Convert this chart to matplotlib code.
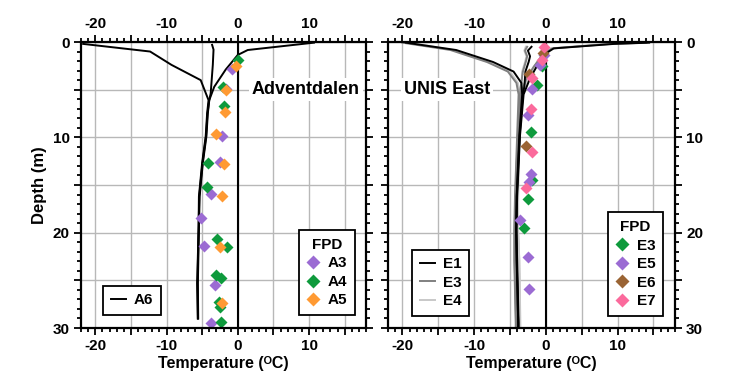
import numpy as np
import matplotlib
matplotlib.use("Agg")
import matplotlib.pyplot as plt
from matplotlib.ticker import MultipleLocator, FuncFormatter

plt.rcParams['font.family'] = ['Liberation Sans', 'DejaVu Sans']
plt.rcParams['font.weight'] = 'bold'
plt.rcParams['axes.unicode_minus'] = False

# ---- Adventdalen: A6 trumpet curve (min / max / mean) ----
a6_min_d = [0.2, 1.0, 2.4, 4.0, 6.1, 7.5, 9.9, 12.7, 16.2, 19.7, 25.3, 29.0]
a6_min_t = [-21.7, -12.3, -9.3, -5.2, -4.1, -4.3, -4.5, -5.0, -5.45, -5.5, -5.7, -5.6]
a6_max_d = [0.07, 0.84, 1.36, 2.9, 4.7, 6.1, 7.5, 9.9, 12.7, 16.2, 19.7, 25.3, 29.0]
a6_max_t = [10.7, 1.4, 0.0, -1.7, -3.3, -4.0, -4.25, -4.45, -4.95, -5.4, -5.5, -5.65, -5.6]
a6_mean_d = [0.3, 0.8, 2.4, 5.4, 6.1, 7.5, 9.9, 12.7, 16.2, 19.7, 25.3, 29.0]
a6_mean_t = [-3.6, -3.4, -3.5, -3.8, -4.0, -4.2, -4.4, -4.9, -5.35, -5.45, -5.6, -5.55]

# FPD points, Adventdalen
a3_d = [2.8, 4.9, 9.9, 12.6, 15.9, 18.5, 21.4, 25.5, 29.45]
a3_t = [-0.75, -1.6, -2.25, -2.5, -3.7, -5.1, -4.8, -3.2, -3.7]
a4_d = [1.9, 4.75, 6.7, 12.7, 15.2, 20.7, 21.5, 24.45, 24.8, 27.3, 27.8, 29.4]
a4_t = [0.0, -2.1, -1.9, -4.2, -4.3, -2.9, -1.55, -3.1, -2.3, -2.6, -2.5, -2.3]
a5_d = [2.5, 5.0, 7.3, 9.7, 12.8, 16.2, 21.5, 27.4]
a5_t = [-0.2, -1.7, -1.8, -3.1, -2.0, -2.15, -2.5, -2.15]

# ---- UNIS East: E1, E3, E4 trumpet curves ----
e1_min_d = [0.07, 0.84, 2.1, 3.1, 4.3, 5.5, 9.8, 16.2, 19.7, 22.9, 29.5, 30.0]
e1_min_t = [-19.5, -12.5, -7.35, -4.5, -3.4, -3.3, -3.7, -4.07, -4.15, -4.07, -3.85, -3.85]
e1_max_d = [0.07, 0.2, 0.67, 1.2, 2.6, 3.8, 5.5, 9.8, 16.2, 19.7, 22.9, 29.5, 30.0]
e1_max_t = [14.4, 9.5, 1.1, 0.0, -1.3, -2.2, -3.1, -3.6, -4.0, -4.1, -4.0, -3.8, -3.8]
e1_mean_d = [0.5, 0.9, 1.5, 2.1, 3.1, 4.7, 5.5, 9.8, 16.2, 19.7, 22.9, 29.5, 30.0]
e1_mean_t = [-2.0, -2.5, -2.2, -2.4, -2.85, -3.0, -3.2, -3.65, -4.05, -4.1, -4.05, -3.85, -3.85]

e3_min_d = [0.07, 0.84, 2.1, 3.1, 4.3, 5.5, 9.8, 16.2, 19.7, 22.9, 29.5, 30.0]
e3_min_t = [-20.0, -13.3, -8.2, -5.3, -4.1, -3.8, -4.0, -4.3, -4.4, -4.4, -4.2, -4.2]
e3_max_d = [0.07, 0.2, 0.67, 1.2, 2.6, 3.8, 5.5, 9.8, 16.2, 19.7, 22.9, 29.5, 30.0]
e3_max_t = [14.0, 9.0, 0.9, -0.3, -1.7, -2.7, -3.5, -3.9, -4.2, -4.3, -4.3, -4.1, -4.1]
e3_mean_d = [0.5, 0.9, 1.5, 2.1, 3.1, 4.7, 5.5, 9.8, 16.2, 19.7, 22.9, 29.5, 30.0]
e3_mean_t = [-2.6, -2.9, -2.6, -2.8, -3.2, -3.5, -3.6, -3.9, -4.25, -4.35, -4.35, -4.15, -4.15]

e4_min_d = [0.07, 0.84, 2.1, 3.1, 4.3, 5.5, 9.8, 16.2, 19.7, 22.9, 29.5, 30.0]
e4_min_t = [-19.0, -13.0, -8.0, -5.0, -3.9, -3.6, -3.8, -3.9, -3.9, -3.7, -3.6, -3.6]
e4_max_d = [0.07, 0.2, 0.67, 1.2, 2.6, 3.8, 5.5, 9.8, 16.2, 19.7, 22.9, 29.5, 30.0]
e4_max_t = [13.5, 8.5, 0.7, -0.4, -1.6, -2.5, -3.3, -3.7, -3.85, -3.85, -3.7, -3.55, -3.55]
e4_mean_d = [0.5, 0.9, 1.5, 2.1, 3.1, 4.7, 5.5, 9.8, 16.2, 19.7, 22.9, 29.5, 30.0]
e4_mean_t = [-2.8, -3.0, -2.7, -2.9, -3.3, -3.4, -3.5, -3.75, -3.9, -3.9, -3.75, -3.6, -3.6]

# FPD points, UNIS East
e3p_d = [2.5, 4.5, 9.4, 14.5, 16.5, 19.5]
e3p_t = [-0.55, -1.25, -2.1, -1.9, -2.45, -3.05]
e5_d = [1.4, 2.4, 4.9, 7.65, 13.85, 14.7, 18.7, 22.6, 25.9]
e5_t = [-0.2, -0.8, -1.9, -2.5, -2.05, -2.3, -3.6, -2.45, -2.35]
e6_d = [1.2, 3.4, 10.9]
e6_t = [-0.35, -2.35, -2.7]
e7_d = [0.5, 1.9, 3.8, 7.0, 11.5, 15.3]
e7_t = [-0.2, -0.55, -2.0, -2.05, -2.0, -2.7]

c_green = '#0e9a3c'
c_purple = '#9b6bd3'
c_orange = '#ff9a33'
c_brown = '#9a6434'
c_pink = '#fb6a9c'

fig = plt.figure(figsize=(7.31, 3.86), dpi=100)
ax1 = fig.add_axes([81 / 731, 58 / 386, 285 / 731, 286 / 386])
ax2 = fig.add_axes([388 / 731, 58 / 386, 287 / 731, 286 / 386])

lab10 = FuncFormatter(lambda v, p: f"{v:.0f}" if abs(v % 10) < 1e-6 else "")


def style(ax, left_labels):
    ax.set_xlim(-22, 18)
    ax.set_ylim(30, 0)
    ax.xaxis.set_major_locator(MultipleLocator(5))
    ax.xaxis.set_minor_locator(MultipleLocator(1))
    ax.yaxis.set_major_locator(MultipleLocator(5))
    ax.yaxis.set_minor_locator(MultipleLocator(1))
    ax.xaxis.set_major_formatter(lab10)
    ax.yaxis.set_major_formatter(lab10)
    ax.grid(True, which='major', color='#b8b8b8', lw=1.0)
    ax.set_axisbelow(True)
    ax.tick_params(which='both', direction='out', top=True, right=True,
                   labeltop=True, labelbottom=True,
                   labelleft=left_labels, labelright=not left_labels,
                   width=1.3, labelsize=11, pad=3)
    ax.tick_params(which='major', length=5)
    ax.tick_params(which='minor', length=3)
    for s in ax.spines.values():
        s.set_linewidth(1.6)
    ax.axvline(0, color='black', lw=1.5, zorder=2)
    ax.set_xlabel('Temperature (ᴼC)', fontsize=11.5, fontweight='bold', labelpad=2)


style(ax1, True)
style(ax2, False)
ax1.set_ylabel('Depth (m)', fontsize=12, fontweight='bold', labelpad=4)

# left panel
l_a6, = ax1.plot(a6_min_t, a6_min_d, color='black', lw=1.4)
ax1.plot(a6_max_t, a6_max_d, color='black', lw=1.4)
ax1.plot(a6_mean_t, a6_mean_d, color='black', lw=1.4)
m_a3, = ax1.plot(a3_t, a3_d, 'D', color=c_purple, ms=6, mec='none')
m_a4, = ax1.plot(a4_t, a4_d, 'D', color=c_green, ms=6, mec='none')
m_a5, = ax1.plot(a5_t, a5_d, 'D', color=c_orange, ms=6, mec='none')
ax1.text(2.0, 5, 'Adventdalen', fontsize=13, fontweight='bold', va='center', ha='left',
         bbox=dict(facecolor='white', edgecolor='none', pad=2))

leg_kw = dict(frameon=True, fancybox=False, edgecolor='black', framealpha=1,
              prop={'weight': 'bold', 'size': 11}, borderaxespad=0,
              handletextpad=0.5, borderpad=0.5)
lg1 = ax1.legend([l_a6], ['A6'], loc='lower left', bbox_to_anchor=(0.077, 0.045),
                 handlelength=1.0, **leg_kw)
lg1.get_frame().set_linewidth(1.3)
ax1.add_artist(lg1)
lg2 = ax1.legend([m_a3, m_a4, m_a5], ['A3', 'A4', 'A5'], loc='lower right',
                 bbox_to_anchor=(0.961, 0.045), title='FPD', handlelength=0.9,
                 labelspacing=0.3, markerscale=1.2, **leg_kw)
lg2.get_title().set_fontweight('bold')
lg2.get_title().set_fontsize(11)
lg2.get_frame().set_linewidth(1.3)

# right panel
for tt, dd in [(e4_min_t, e4_min_d), (e4_max_t, e4_max_d), (e4_mean_t, e4_mean_d)]:
    l_e4, = ax2.plot(tt, dd, color='#c8c8c8', lw=1.4)
for tt, dd in [(e3_min_t, e3_min_d), (e3_max_t, e3_max_d), (e3_mean_t, e3_mean_d)]:
    l_e3, = ax2.plot(tt, dd, color='#808080', lw=1.4)
for tt, dd in [(e1_min_t, e1_min_d), (e1_max_t, e1_max_d), (e1_mean_t, e1_mean_d)]:
    l_e1, = ax2.plot(tt, dd, color='black', lw=1.4)
m_e3, = ax2.plot(e3p_t, e3p_d, 'D', color=c_green, ms=6, mec='none')
m_e5, = ax2.plot(e5_t, e5_d, 'D', color=c_purple, ms=6, mec='none')
m_e6, = ax2.plot(e6_t, e6_d, 'D', color=c_brown, ms=6, mec='none')
m_e7, = ax2.plot(e7_t, e7_d, 'D', color=c_pink, ms=6, mec='none')
ax2.text(-19.8, 5, 'UNIS East', fontsize=13, fontweight='bold', va='center', ha='left',
         bbox=dict(facecolor='white', edgecolor='none', pad=2))

lg3 = ax2.legend([l_e1, l_e3, l_e4], ['E1', 'E3', 'E4'], loc='lower left',
                 bbox_to_anchor=(0.084, 0.042), handlelength=1.0,
                 labelspacing=0.3, **leg_kw)
lg3.get_frame().set_linewidth(1.3)
ax2.add_artist(lg3)
lg4 = ax2.legend([m_e3, m_e5, m_e6, m_e7], ['E3', 'E5', 'E6', 'E7'], loc='lower right',
                 bbox_to_anchor=(0.958, 0.042), title='FPD', handlelength=0.9,
                 labelspacing=0.3, markerscale=1.2, **leg_kw)
lg4.get_title().set_fontweight('bold')
lg4.get_title().set_fontsize(11)
lg4.get_frame().set_linewidth(1.3)

fig.savefig('out.png', dpi=100)
